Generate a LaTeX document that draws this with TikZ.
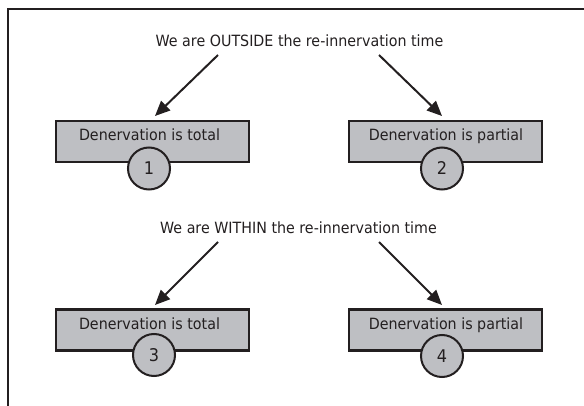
\documentclass[tikz,border=0pt]{standalone}
\usepackage{fontspec}
\setmainfont{DejaVu Sans}[FakeStretch=0.92]
\usetikzlibrary{arrows.meta}
\definecolor{ink}{RGB}{35,31,32}
\definecolor{boxgray}{RGB}{190,191,195}
\begin{document}
\begin{tikzpicture}[x=1pt,y=-1pt,
  frame/.style={draw=ink,line width=2pt},
  box/.style={draw=ink,fill=boxgray,line width=2.2pt,minimum width=193pt,minimum height=41pt,inner sep=0pt},
  boxtext/.style={text=ink,font=\fontsize{15.5}{17}\selectfont,anchor=base,inner sep=0pt},
  num/.style={circle,draw=ink,fill=boxgray,line width=2pt,minimum size=42pt,inner sep=0pt,text=ink,font=\fontsize{17.5}{19}\selectfont},
  head/.style={text=ink,font=\fontsize{15.5}{17}\selectfont,inner sep=0pt,anchor=base},
  arr/.style={draw=ink,line width=2pt,-{Triangle[length=15pt,width=13pt]}}]
\useasboundingbox (0,0) rectangle (584,406);
\draw[frame] (8,406) -- (8,9) -- (584,9);
% boxes
\node[box] (b1) at (152.5,141.5) {};
\node[box] (b2) at (445.5,141.5) {};
\node[box] (b3) at (152.5,330) {};
\node[box] (b4) at (445.5,330) {};
\node[boxtext] (t1) at (149.5,141) {Denervation is total};
\node[boxtext] (t2) at (446,141) {Denervation is partial};
\node[boxtext] (t3) at (149.5,329) {Denervation is total};
\node[boxtext] (t4) at (446,329) {Denervation is partial};
\node[num] (c1) at (149,168.5) {1};
\node[num] (c2) at (442,168.5) {2};
\node[num] (c3) at (154,355) {3};
\node[num] (c4) at (442,356) {4};
% headings
\node[head] (h1) at (299.5,47) {We are OUTSIDE the re-innervation time};
\node[head] (h2) at (298.5,234) {We are WITHIN the re-innervation time};
% arrows
\coordinate (s1) at (218,55);
\coordinate (s2) at (379,55);
\coordinate (s3) at (218,242);
\coordinate (s4) at (379,242);
\coordinate (e1) at (155,116);
\coordinate (e2) at (442,116);
\coordinate (e3) at (155,305);
\coordinate (e4) at (442,305);
\draw[arr] (s1) -- (e1);
\draw[arr] (s2) -- (e2);
\draw[arr] (s3) -- (e3);
\draw[arr] (s4) -- (e4);
\end{tikzpicture}
\end{document}
